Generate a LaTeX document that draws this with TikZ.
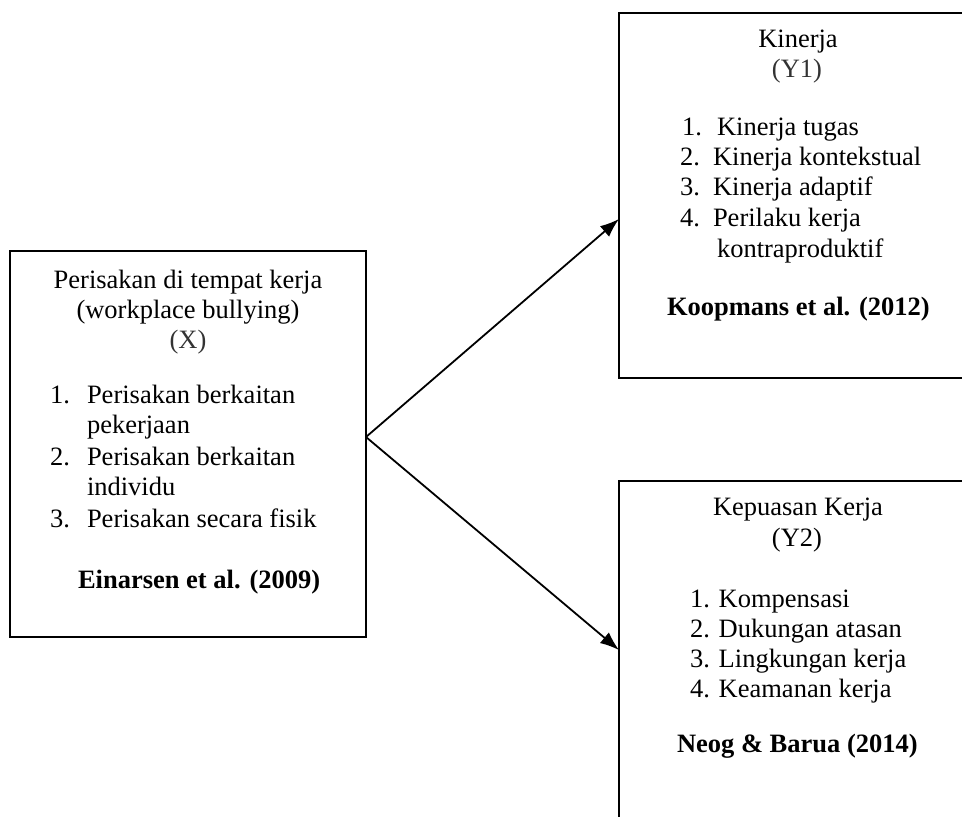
\documentclass[tikz,border=0pt]{standalone}
\usepackage{fontspec}
\setmainfont{Liberation Serif}
\usetikzlibrary{arrows.meta}
\begin{document}
\begin{tikzpicture}[x=1pt,y=-1pt,
  every node/.style={inner sep=0pt,outer sep=0pt,font=\fontsize{26.5}{31}\selectfont},
  boxnode/.style={draw,line width=2pt,rectangle,anchor=north west},
  ctext/.style={anchor=base},
  ltext/.style={anchor=base west},
  bib/.style={anchor=base west,font=\fontsize{26.5}{31}\selectfont\bfseries},
  varlab/.style={anchor=base,text=black!80},
  arr/.style={line width=1.8pt,-{Latex[length=19pt,width=14pt]}}]
\useasboundingbox (0,0) rectangle (962,817);
\clip (0,0) rectangle (962,817);
% boxes
\node[boxnode,minimum width=356pt,minimum height=386pt] (X) at (10,251) {};
\node[boxnode,minimum width=400pt,minimum height=365pt] (Y1) at (619,13) {};
\node[boxnode,minimum width=400pt,minimum height=400pt] (Y2) at (619,481) {};
% X texts
\node[ctext] (xt1) at (188,288) {Perisakan di tempat kerja};
\node[ctext] (xt2) at (188,318) {(workplace bullying)};
\node[varlab] (xt3) at (188,348) {(X)};
\node[ltext] (xn1) at (50,403) {1.};
\node[ltext] (xi1) at (87,403) {Perisakan berkaitan};
\node[ltext] (xi1b) at (87,433) {pekerjaan};
\node[ltext] (xn2) at (50,465) {2.};
\node[ltext] (xi2) at (87,465) {Perisakan berkaitan};
\node[ltext] (xi2b) at (87,495) {individu};
\node[ltext] (xn3) at (50,527) {3.};
\node[ltext] (xi3) at (87,527) {Perisakan secara fisik};
\node[bib] (xb) at (78,588) {Einarsen et al. (2009)};
% Y1 texts
\node[ctext] (at1) at (798,47) {Kinerja};
\node[varlab] (at2) at (797,77) {(Y1)};
\node[ltext] (an1) at (682,135) {1.};
\node[ltext] (ai1) at (717,135) {Kinerja tugas};
\node[ltext] (an2) at (680,165) {2.};
\node[ltext] (ai2) at (713,165) {Kinerja kontekstual};
\node[ltext] (an3) at (680,195) {3.};
\node[ltext] (ai3) at (713,195) {Kinerja adaptif};
\node[ltext] (an4) at (680,226) {4.};
\node[ltext] (ai4) at (713,226) {Perilaku kerja};
\node[ltext] (ai4b) at (717,257) {kontraproduktif};
\node[bib] (ab) at (667,315) {Koopmans et al. (2012)};
% Y2 texts
\node[ctext] (bt1) at (798,515) {Kepuasan Kerja};
\node[ctext] (bt2) at (797,546) {(Y2)};
\node[ltext] (bi1) at (690,607) {1. Kompensasi};
\node[ltext] (bi2) at (690,637) {2. Dukungan atasan};
\node[ltext] (bi3) at (690,667) {3. Lingkungan kerja};
\node[ltext] (bi4) at (690,697) {4. Keamanan kerja};
\node[bib] (bb) at (677,752) {Neog \& Barua (2014)};
% arrows
\coordinate (src) at ([yshift=7pt]X.east);
\draw[arr] (src) -- ([yshift=-23.5pt]Y1.west);
\draw[arr] (src) -- ([yshift=31pt]Y2.west);
\end{tikzpicture}
\end{document}
